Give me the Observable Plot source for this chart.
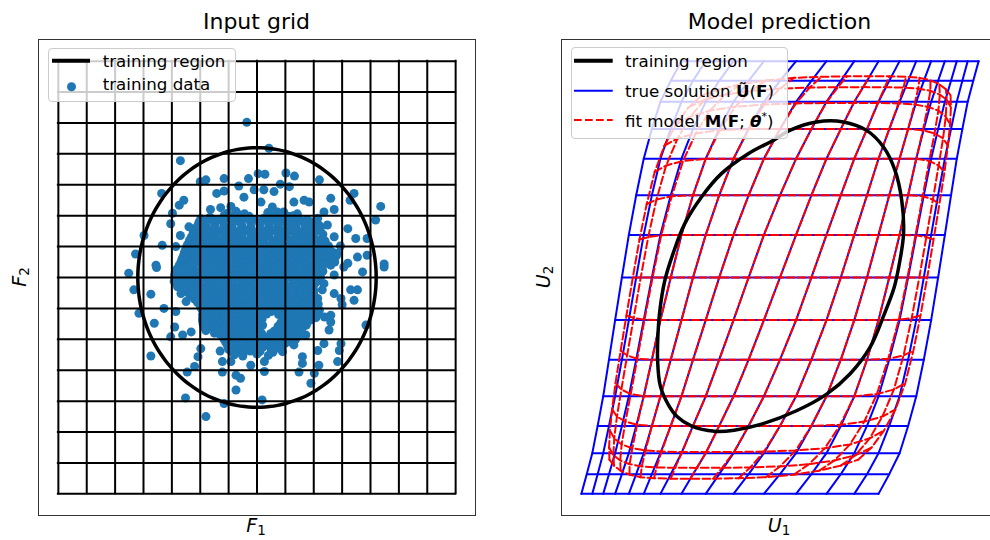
<!DOCTYPE html>
<html>
<head>
<meta charset="utf-8">
<script src="https://cdn.jsdelivr.net/npm/d3@7"></script>
<script src="https://cdn.jsdelivr.net/npm/@observablehq/plot@0.6"></script>
<style>
  html, body { margin: 0; padding: 0; background: #fff; overflow: hidden; }
  #fig { position: relative; width: 990px; height: 540px; overflow: hidden;
         font-family: "DejaVu Sans", sans-serif; color: #000; }
  .panel { position: absolute; top: 0; }
  .panel svg { display: block; max-width: none; }
  .title { position: absolute; font-size: 22px; line-height: 1; white-space: nowrap; transform: translateX(-50%); }
  .axlab { position: absolute; font-size: 19px; line-height: 1; white-space: nowrap; }
  .axlab i { font-style: italic; }
  .axlab sub { font-size: 13.5px; vertical-align: -3px; line-height: 0; }
  .xlab { transform: translateX(-50%); }
  .ylab { transform: translate(-50%, -50%) rotate(-90deg); }
  .legend { position: absolute; box-sizing: border-box; background: rgba(255,255,255,0.8);
            border: 1px solid #cccccc; border-radius: 4px; }
  .ltext { position: absolute; font-size: 16.7px; line-height: 1; white-space: nowrap; }
  .ltext sup { font-size: 11px; vertical-align: 7px; line-height: 0; }
  svg.handles { position: absolute; left: 0; top: 0; overflow: visible; pointer-events: none; }
</style>
</head>
<body>
<div id="fig">
  <div class="panel" id="left" style="left:0px;width:500px;"></div>
  <div class="panel" id="right" style="left:523px;width:475px;"></div>

  <div class="title" style="left:256.5px;top:11px;">Input grid</div>
  <div class="title" style="left:779.5px;top:11px;">Model prediction</div>

  <div class="axlab xlab" style="left:256px;top:516px;"><i>F</i><sub>1</sub></div>
  <div class="axlab xlab" style="left:779px;top:516px;"><i>U</i><sub>1</sub></div>
  <div class="axlab ylab" style="left:19px;top:277px;"><i>F</i><sub>2</sub></div>
  <div class="axlab ylab" style="left:543px;top:277px;"><i>U</i><sub>2</sub></div>

  <div class="legend" style="left:47.5px;top:48px;width:188px;height:54px;"></div>
  <div class="legend" style="left:570.7px;top:47.3px;width:217.6px;height:92px;"></div>
  <svg class="handles" width="990" height="540">
    <line x1="52" x2="90" y1="60.7" y2="60.7" stroke="#000" stroke-width="4"/>
    <circle cx="71.5" cy="86.7" r="4.5" fill="#1f77b4"/>
    <line x1="574" x2="612.7" y1="60.7" y2="60.7" stroke="#000" stroke-width="4"/>
    <line x1="574" x2="612.7" y1="90.7" y2="90.7" stroke="#0000ff" stroke-width="2"/>
    <line x1="574" x2="612.7" y1="120" y2="120" stroke="#ff0000" stroke-width="2" stroke-dasharray="7.7,3.3"/>
  </svg>
  <div class="ltext" style="left:102.7px;top:52.5px;">training region</div>
  <div class="ltext" style="left:102.7px;top:76px;">training data</div>
  <div class="ltext" style="left:625px;top:52.5px;">training region</div>
  <div class="ltext" style="left:625px;top:82.5px;">true solution <b>Ũ</b>(<b>F</b>)</div>
  <div class="ltext" style="left:625px;top:112.5px;">fit model <b>M</b>(<b>F</b>; <b><i>θ</i></b><sup>*</sup>)</div>
</div>

<script>
// ---- input grid: 15 levels per axis ----
const fLevels = [-3.5, -3, -2.5, -2, -1.5, -1, -0.5, 0, 0.5, 1, 1.5, 2, 2.5, 3, 3.5];

// radius of the circular training region in input space
const trainingRadius = 2.1;

// training samples (F1, F2): sparse outskirts
const trainingOuter = [
  [-0.18,2.51],[0.21,2.09],[-1.35,1.89],[0.02,1.68],[0.14,1.67],[0.51,1.69],[0.66,1.64],[-0.58,1.60],
  [-0.15,1.60],[-0.90,1.58],[-1.00,1.55],[-0.32,1.48],[0.41,1.51],[0.57,1.47],[1.10,1.58],[0.30,1.39],
  [0.12,1.42],[-0.05,1.42],[-0.71,1.36],[-0.58,1.40],[-1.68,1.36],[1.71,1.36],[1.64,1.25],[1.30,1.28],
  [1.36,1.10],[-0.23,1.30],[0.07,1.22],[0.65,1.22],[0.83,1.25],[0.92,1.22],[-1.29,1.25],[-1.37,1.17],
  [-0.82,1.10],[-0.64,1.13],[-0.46,1.15],[0.27,1.14],[0.36,1.06],[2.18,1.15],[2.09,0.93],[-1.49,1.04],
  [-1.52,0.87],[1.18,1.06],[1.07,0.96],[1.24,0.85],[1.60,0.79],[1.74,0.63],[1.94,0.63],[1.77,0.33],
  [1.94,0.36],[2.24,0.22],[-1.99,0.68],[-1.67,0.52],[-2.14,0.38],[-1.78,0.20],[-1.43,0.50],[-1.35,0.68],
  [-1.14,0.79],[1.47,0.51],[1.36,0.66],[1.60,0.23],[1.42,0.39],[0.89,0.66],[1.09,0.85],[-0.73,0.93],
  [-0.96,0.90],[-0.90,0.77],[-1.20,0.82],
  [-2.26,0.07],[-2.17,-0.20],[-1.77,0.16],[-1.87,-0.27],[-2.08,-0.58],[-1.81,-0.74],[-1.64,-0.50],
  [-1.43,-0.55],[-1.45,-0.80],[-1.52,-0.96],[-1.31,-0.93],[-1.16,-0.88],[-1.34,-0.26],[-1.25,-0.39],
  [-1.87,-1.27],[-0.99,-1.15],[-1.04,-1.28],[-0.65,-1.19],[-1.10,-1.44],[-1.23,-1.53],[-1.26,-1.95],
  [-0.90,-2.25],[-0.58,-2.04],[-0.61,-1.36],[-0.61,-1.53],[-0.46,-1.36],[-0.37,-1.58],[-0.29,-1.63],
  [-0.37,-1.82],[-0.11,-1.42],[0.13,-1.52],[0.09,-1.98],[0.13,-1.36],[0.45,-1.20],[0.65,-1.09],
  [0.80,-1.28],[0.80,-1.39],[0.74,-1.53],[1.01,-1.55],[0.95,-1.71],[1.09,-1.42],[1.07,-1.18],
  [1.42,-1.36],[1.45,-1.18],[1.48,-1.07],[1.18,-1.07],[1.27,-0.85],[1.19,-0.64],[1.30,-0.72],
  [1.15,-0.20],[1.36,-0.26],[1.18,-0.10],[1.48,-0.34],[1.65,-0.20],[1.77,-0.20],[1.71,-0.37],
  [1.50,-0.44],[1.92,-0.77],[1.86,0.09],[2.24,0.17],[1.53,0.17],[1.36,0.04],[1.12,0.08],[1.07,-0.34],
  [1.30,-0.61],[0.86,-0.93],[0.98,-0.56]
];

// training samples (F1, F2): dense core
const trainingCore = [
  [-0.52,1.04],[-0.37,1.07],[-0.22,1.03],[0.19,1.05],[0.33,1.02],[0.47,1.06],[0.71,1.03],
  [-0.58,1.00],[-0.44,0.99],[-0.29,1.01],[-0.14,0.99],[0.26,1.00],[0.40,1.01],[0.55,0.99],[0.64,1.00],
  [-0.99,0.95],[-0.83,0.97],[-0.66,0.94],[-0.50,0.96],[-0.35,0.93],[-0.19,0.97],[-0.03,0.94],[0.12,0.96],
  [0.41,0.95],[0.57,0.93],[0.73,0.97],[0.88,0.94],
  [-1.02,0.90],[-0.90,0.91],[-0.75,0.89],[-0.60,0.91],[-0.44,0.90],[-0.28,0.89],[-0.12,0.91],[0.04,0.90],
  [0.20,0.89],[0.34,0.91],[0.50,0.90],[0.65,0.89],[0.80,0.91],[0.95,0.90],
  [-1.04,0.85],[-0.90,0.83],[-0.74,0.86],[-0.58,0.84],[-0.43,0.87],[-0.27,0.85],[-0.11,0.83],[0.05,0.86],
  [0.21,0.84],[0.37,0.87],[0.52,0.85],[0.68,0.83],[0.84,0.86],[0.99,0.84],
  [-1.06,0.80],[-0.90,0.79],[-0.75,0.81],[-0.59,0.80],[-0.43,0.79],[-0.27,0.81],[-0.11,0.80],[0.05,0.79],
  [0.21,0.81],[0.37,0.80],[0.52,0.79],[0.68,0.81],[0.84,0.80],[1.00,0.79],[1.12,0.81],
  [-1.10,0.74],[-0.97,0.76],[-0.82,0.73],[-0.66,0.75],[-0.51,0.77],[-0.35,0.74],[-0.19,0.76],[-0.04,0.73],
  [0.13,0.75],[0.29,0.77],[0.44,0.74],[0.60,0.76],[0.76,0.73],[0.92,0.75],[1.08,0.77],
  [-1.13,0.70],[-1.04,0.69],[-0.90,0.71],[-0.74,0.70],[-0.58,0.69],[-0.43,0.71],[-0.27,0.70],[-0.11,0.69],
  [0.05,0.71],[0.21,0.70],[0.37,0.69],[0.52,0.71],[0.68,0.70],[0.84,0.69],[1.00,0.71],[1.16,0.70],
  [-1.16,0.65],[-1.02,0.63],[-0.88,0.66],[-0.73,0.64],[-0.58,0.67],[-0.43,0.64],[-0.27,0.66],[-0.11,0.63],
  [0.05,0.65],[0.20,0.67],[0.36,0.64],[0.52,0.66],[0.67,0.63],[0.83,0.65],[0.99,0.67],[1.15,0.64],
  [-1.19,0.60],[-1.09,0.59],[-0.95,0.61],[-0.80,0.60],[-0.65,0.59],[-0.50,0.61],[-0.35,0.60],[-0.19,0.59],
  [-0.03,0.61],[0.12,0.60],[0.28,0.59],[0.44,0.61],[0.60,0.60],[0.75,0.59],[0.91,0.61],[1.07,0.60],[1.20,0.59],
  [-1.22,0.54],[-1.07,0.56],[-0.93,0.53],[-0.79,0.55],[-0.64,0.57],[-0.49,0.54],[-0.34,0.56],[-0.19,0.53],
  [-0.03,0.55],[0.13,0.57],[0.28,0.54],[0.44,0.56],[0.59,0.53],[0.75,0.55],[0.91,0.57],[1.06,0.54],[1.20,0.56],
  [-1.24,0.50],[-1.14,0.49],[-1.00,0.51],[-0.86,0.50],[-0.71,0.49],[-0.56,0.51],[-0.41,0.50],[-0.26,0.49],
  [-0.11,0.51],[0.05,0.50],[0.20,0.49],[0.36,0.51],[0.51,0.50],[0.67,0.49],[0.83,0.51],[0.98,0.50],[1.13,0.49],[1.26,0.51],
  [-1.26,0.45],[-1.12,0.43],[-0.98,0.46],[-0.83,0.44],[-0.68,0.47],[-0.53,0.44],[-0.38,0.46],[-0.23,0.43],
  [-0.08,0.45],[0.08,0.47],[0.23,0.44],[0.39,0.46],[0.54,0.43],[0.70,0.45],[0.85,0.47],[1.01,0.44],[1.16,0.46],[1.30,0.43],
  [-1.28,0.40],[-1.19,0.39],[-1.05,0.41],[-0.90,0.40],[-0.75,0.39],[-0.60,0.41],[-0.45,0.40],[-0.30,0.39],
  [-0.15,0.41],[0.00,0.40],[0.15,0.39],[0.31,0.41],[0.46,0.40],[0.62,0.39],[0.77,0.41],[0.93,0.40],[1.08,0.39],[1.23,0.41],[1.35,0.40],
  [-1.30,0.34],[-1.16,0.36],[-1.02,0.33],[-0.87,0.35],[-0.72,0.37],[-0.57,0.34],[-0.42,0.36],[-0.27,0.33],
  [-0.12,0.35],[0.03,0.37],[0.18,0.34],[0.34,0.36],[0.49,0.33],[0.64,0.35],[0.80,0.37],[0.95,0.34],[1.11,0.36],[1.26,0.33],[1.40,0.35],
  [-1.32,0.30],[-1.23,0.29],[-1.09,0.31],[-0.94,0.30],[-0.79,0.29],[-0.64,0.31],[-0.49,0.30],[-0.34,0.29],
  [-0.19,0.31],[-0.04,0.30],[0.11,0.29],[0.26,0.31],[0.41,0.30],[0.57,0.29],[0.72,0.31],[0.87,0.30],[1.03,0.29],[1.18,0.31],[1.33,0.30],
  [-1.34,0.25],[-1.20,0.23],[-1.05,0.26],[-0.90,0.24],[-0.75,0.27],[-0.60,0.24],[-0.45,0.26],[-0.30,0.23],
  [-0.15,0.25],[0.00,0.27],[0.15,0.24],[0.31,0.26],[0.46,0.23],[0.61,0.25],[0.77,0.27],[0.92,0.24],[1.07,0.26],[1.22,0.23],[1.37,0.25],
  [-1.37,0.20],[-1.27,0.19],[-1.12,0.21],[-0.97,0.20],[-0.82,0.19],[-0.67,0.21],[-0.52,0.20],[-0.37,0.19],
  [-0.22,0.21],[-0.07,0.20],[0.08,0.19],[0.23,0.21],[0.38,0.20],[0.54,0.19],[0.69,0.21],[0.84,0.20],[0.99,0.19],[1.14,0.21],[1.30,0.20],
  [-1.41,0.14],[-1.27,0.16],[-1.12,0.13],[-0.97,0.15],[-0.82,0.17],[-0.67,0.14],[-0.52,0.16],[-0.37,0.13],
  [-0.22,0.15],[-0.07,0.17],[0.08,0.14],[0.23,0.16],[0.38,0.13],[0.54,0.15],[0.69,0.17],[0.84,0.14],[0.99,0.16],[1.15,0.13],
  [-1.43,0.10],[-1.34,0.09],[-1.19,0.11],[-1.04,0.10],[-0.89,0.09],[-0.74,0.11],[-0.59,0.10],[-0.44,0.09],
  [-0.29,0.11],[-0.14,0.10],[0.01,0.09],[0.16,0.11],[0.31,0.10],[0.46,0.09],[0.61,0.11],[0.76,0.10],[0.91,0.09],[1.06,0.11],[1.16,0.10],
  [-1.45,0.05],[-1.30,0.03],[-1.15,0.06],[-1.00,0.04],[-0.85,0.07],[-0.70,0.04],[-0.55,0.06],[-0.40,0.03],
  [-0.25,0.05],[-0.10,0.07],[0.05,0.04],[0.20,0.06],[0.35,0.03],[0.50,0.05],[0.65,0.07],[0.80,0.04],[0.95,0.06],[1.10,0.03],
  [-1.45,0.00],[-1.37,-0.01],[-1.22,0.01],[-1.07,0.00],[-0.92,-0.01],[-0.77,0.01],[-0.62,0.00],[-0.47,-0.01],
  [-0.32,0.01],[-0.17,0.00],[-0.02,-0.01],[0.13,0.01],[0.28,0.00],[0.43,-0.01],[0.58,0.01],[0.73,0.00],[0.88,-0.01],[1.03,0.01],[1.12,0.00],
  [-1.46,-0.06],[-1.32,-0.04],[-1.17,-0.07],[-1.02,-0.05],[-0.87,-0.03],[-0.72,-0.06],[-0.57,-0.04],[-0.42,-0.07],
  [-0.27,-0.05],[-0.12,-0.03],[0.03,-0.06],[0.18,-0.04],[0.33,-0.07],[0.48,-0.05],[0.63,-0.03],[0.78,-0.06],[0.93,-0.04],[1.05,-0.07],
  [-1.42,-0.10],[-1.32,-0.11],[-1.17,-0.09],[-1.02,-0.10],[-0.87,-0.11],[-0.72,-0.09],[-0.57,-0.10],[-0.42,-0.11],
  [-0.27,-0.09],[-0.12,-0.10],[0.03,-0.11],[0.18,-0.09],[0.33,-0.10],[0.48,-0.11],[0.63,-0.09],[0.78,-0.10],[0.92,-0.11],[1.02,-0.09],
  [-1.40,-0.15],[-1.25,-0.17],[-1.10,-0.14],[-0.95,-0.16],[-0.80,-0.13],[-0.65,-0.16],[-0.50,-0.14],[-0.35,-0.17],
  [-0.20,-0.15],[-0.05,-0.13],[0.10,-0.16],[0.25,-0.14],[0.40,-0.17],[0.55,-0.15],[0.70,-0.13],[0.85,-0.16],[0.99,-0.14],
  [-1.30,-0.20],[-1.17,-0.21],[-1.02,-0.19],[-0.87,-0.20],[-0.72,-0.21],[-0.57,-0.19],[-0.42,-0.20],[-0.27,-0.21],
  [-0.12,-0.19],[0.03,-0.20],[0.18,-0.21],[0.33,-0.19],[0.48,-0.20],[0.63,-0.21],[0.78,-0.19],[0.92,-0.20],[1.00,-0.21],
  [-1.20,-0.26],[-1.05,-0.24],[-0.90,-0.27],[-0.75,-0.25],[-0.60,-0.23],[-0.45,-0.26],[-0.30,-0.24],[-0.15,-0.27],
  [0.00,-0.25],[0.15,-0.23],[0.30,-0.26],[0.45,-0.24],[0.60,-0.27],[0.75,-0.25],[0.90,-0.23],[1.00,-0.27],
  [-1.15,-0.30],[-1.02,-0.31],[-0.87,-0.29],[-0.72,-0.30],[-0.57,-0.31],[-0.42,-0.29],[-0.27,-0.30],[-0.12,-0.31],
  [0.03,-0.29],[0.18,-0.30],[0.33,-0.31],[0.48,-0.29],[0.63,-0.30],[0.78,-0.31],[0.92,-0.29],
  [-1.10,-0.35],[-0.96,-0.37],[-0.81,-0.34],[-0.66,-0.36],[-0.51,-0.33],[-0.36,-0.36],[-0.21,-0.34],[-0.06,-0.37],
  [0.09,-0.35],[0.24,-0.33],[0.39,-0.36],[0.54,-0.34],[0.69,-0.37],[0.84,-0.35],[0.95,-0.33],
  [-1.05,-0.40],[-0.92,-0.41],[-0.77,-0.39],[-0.62,-0.40],[-0.47,-0.41],[-0.32,-0.39],[-0.17,-0.40],[-0.02,-0.41],
  [0.13,-0.39],[0.28,-0.40],[0.43,-0.41],[0.58,-0.39],[0.73,-0.40],[0.88,-0.41],[1.00,-0.39],
  [-1.00,-0.46],[-0.86,-0.44],[-0.71,-0.47],[-0.56,-0.45],[-0.41,-0.43],[-0.26,-0.46],[-0.11,-0.44],[0.04,-0.47],
  [0.19,-0.45],[0.34,-0.43],[0.49,-0.46],[0.64,-0.44],[0.79,-0.47],[0.94,-0.45],[1.08,-0.43],
  [-0.98,-0.50],[-0.87,-0.51],[-0.72,-0.49],[-0.57,-0.50],[-0.42,-0.51],[-0.27,-0.49],[-0.12,-0.50],[0.03,-0.51],
  [0.18,-0.49],[0.33,-0.50],[0.48,-0.51],[0.63,-0.49],[0.78,-0.50],[0.93,-0.51],[1.06,-0.49],
  [-0.95,-0.55],[-0.80,-0.57],[-0.65,-0.54],[-0.50,-0.56],[-0.35,-0.53],[-0.20,-0.56],[-0.05,-0.54],[0.10,-0.57],
  [0.25,-0.55],[0.40,-0.53],[0.55,-0.56],[0.70,-0.54],[0.85,-0.57],[1.00,-0.55],[1.10,-0.53],
  [-0.96,-0.60],[-0.87,-0.61],[-0.72,-0.59],[-0.57,-0.60],[-0.42,-0.61],[-0.27,-0.59],[-0.12,-0.60],[0.03,-0.61],
  [0.17,-0.59],[0.38,-0.60],[0.53,-0.61],[0.68,-0.59],[0.83,-0.60],[0.97,-0.61],[1.07,-0.59],
  [-0.96,-0.66],[-0.81,-0.64],[-0.66,-0.67],[-0.51,-0.65],[-0.36,-0.63],[-0.21,-0.66],[-0.06,-0.64],[0.09,-0.67],
  [0.45,-0.63],[0.60,-0.66],[0.75,-0.64],[0.90,-0.67],[1.04,-0.65],
  [-0.96,-0.70],[-0.87,-0.71],[-0.72,-0.69],[-0.57,-0.70],[-0.42,-0.71],[-0.27,-0.69],[-0.12,-0.70],[0.02,-0.71],
  [0.50,-0.69],[0.65,-0.70],[0.80,-0.71],[0.94,-0.69],
  [-0.95,-0.75],[-0.80,-0.77],[-0.65,-0.74],[-0.50,-0.76],[-0.35,-0.73],[-0.20,-0.76],[-0.05,-0.74],[0.10,-0.77],
  [0.42,-0.73],[0.57,-0.76],[0.72,-0.74],[0.87,-0.77],
  [-0.93,-0.80],[-0.87,-0.81],[-0.72,-0.79],[-0.57,-0.80],[-0.42,-0.81],[-0.27,-0.79],[-0.12,-0.80],[0.04,-0.81],
  [0.37,-0.79],[0.52,-0.80],[0.67,-0.81],[0.82,-0.79],
  [-0.90,-0.86],[-0.75,-0.84],[-0.60,-0.87],[-0.45,-0.85],[-0.30,-0.83],[-0.15,-0.86],[0.00,-0.84],[0.30,-0.87],
  [0.47,-0.85],[0.62,-0.83],[0.78,-0.86],
  [-0.75,-0.90],[-0.67,-0.91],[-0.52,-0.89],[-0.37,-0.90],[-0.22,-0.91],[-0.07,-0.89],[0.08,-0.90],[0.24,-0.91],
  [0.40,-0.89],[0.55,-0.90],[0.70,-0.91],
  [-0.60,-0.95],[-0.45,-0.97],[-0.30,-0.94],[-0.15,-0.96],[0.00,-0.93],[0.15,-0.97],[0.32,-0.95],[0.47,-0.93],[0.62,-0.96],[0.74,-0.94],
  [-0.58,-1.00],[-0.47,-1.01],[-0.32,-0.99],[-0.17,-1.00],[-0.02,-1.01],[0.13,-0.99],[0.28,-1.00],[0.43,-1.01],[0.56,-0.99],[0.68,-1.00],
  [-0.55,-1.05],[-0.40,-1.03],[-0.25,-1.06],[-0.10,-1.04],[0.05,-1.07],[0.20,-1.05],[0.35,-1.03],[0.50,-1.06],[0.60,-1.04],
  [-0.52,-1.10],[-0.42,-1.11],[-0.27,-1.09],[-0.12,-1.10],[0.03,-1.11],[0.18,-1.09],[0.32,-1.10],[0.45,-1.11],
  [-0.50,-1.16],[-0.35,-1.14],[-0.20,-1.17],[-0.05,-1.15],[0.10,-1.13],[0.25,-1.16],[0.36,-1.14],
  [-0.45,-1.20],[-0.30,-1.21],[-0.12,-1.19],[0.05,-1.20],[0.28,-1.21],
  [-0.40,-1.25],[-0.25,-1.27],[0.00,-1.24],[0.20,-1.26]
];

// ---- true solution: U2 depends on F2 only, U1 on the sheared input F1 + shear*F2 ----
const shear = 0.5;
const u2Levels = [-10, -9.09, -8.12, -6.86, -5.49, -3.80, -1.97, 0, 1.97, 3.80, 5.49, 6.86, 8.12, 9.09, 10];
const shearArgs = [-5.25,-5,-4.75,-4.5,-4.25,-4,-3.75,-3.5,-3.25,-3,-2.75,-2.5,-2.25,-2,-1.75,-1.5,-1.25,-1,-0.75,-0.5,-0.25,
                   0,0.25,0.5,0.75,1,1.25,1.5,1.75,2,2.25,2.5,2.75,3,3.25,3.5,3.75,4,4.25,4.5,4.75,5,5.25];
const u1Profile = [-10.0,-9.73,-9.45,-9.18,-8.90,-8.61,-8.30,-7.96,-7.61,-7.24,-6.86,-6.45,-6.02,-5.50,-4.96,-4.38,-3.74,-3.06,-2.34,-1.58,-0.81,
                   0,0.81,1.58,2.34,3.06,3.74,4.38,4.96,5.50,6.02,6.45,6.86,7.24,7.61,7.96,8.30,8.61,8.90,9.18,9.45,9.73,10.0];

// ---- fit model: agrees inside the training region, saturates outside ----
const fitNormPower = 3;
const fitReachIn  = [0, 2.4, 2.8, 3.2, 3.6, 4.0, 4.5, 5.0];
const fitReachOut = [0, 2.4, 2.72, 2.98, 3.16, 3.27, 3.36, 3.42];

// training region boundary as seen in output space (U1, U2)
const regionU1 = [1.84,3.19,4.36,5.21,5.79,6.13,6.22,6.00,5.75,5.25,4.53,3.52,2.35,0.83,-0.93,-2.30,-3.29,-4.47,-5.17,-5.64,
                  -6.03,-6.16,-6.15,-6.05,-5.80,-5.39,-4.80,-3.96,-2.95,-1.60,-0.26,0.49];
const regionU2 = [7.19,7.19,6.80,6.03,4.95,3.56,2.02,0.60,-0.45,-1.69,-3.23,-4.46,-5.39,-6.16,-6.78,-7.06,-7.11,-6.86,-6.44,-5.85,
                  -5.00,-3.85,-2.77,-1.53,-0.14,1.09,2.48,3.71,4.80,5.72,6.38,6.80];

// ---------------------------------------------------------------------------
const G = d3.scaleLinear().domain(shearArgs).range(u1Profile).clamp(true);
const H = d3.scaleLinear().domain(fLevels).range(u2Levels).clamp(true);
const reach = d3.scaleLinear().domain(fitReachIn).range(fitReachOut).clamp(true);

const trueMap = (f1, f2) => [G(f1 + shear * f2), H(f2)];
const fitMap = (f1, f2) => {
  const rho = Math.pow(Math.abs(f1) ** fitNormPower + Math.abs(f2) ** fitNormPower, 1 / fitNormPower);
  const k = rho > 0 ? reach(rho) / rho : 1;
  return trueMap(f1 * k, f2 * k);
};

// polylines of the mapped grid: one per column and one per row of input nodes
function gridLines(map) {
  const out = [];
  fLevels.forEach((a, i) => fLevels.forEach(b => { const [u1, u2] = map(a, b); out.push({line: "c" + i, u1, u2}); }));
  fLevels.forEach((b, j) => fLevels.forEach(a => { const [u1, u2] = map(a, b); out.push({line: "r" + j, u1, u2}); }));
  return out;
}

const fMin = d3.min(fLevels), fMax = d3.max(fLevels);
const circle = d3.range(0, 360, 4).map(t => ({
  f1: trainingRadius * Math.cos(t * Math.PI / 180),
  f2: trainingRadius * Math.sin(t * Math.PI / 180)
}));
const region = regionU1.map((u1, i) => ({u1, u2: regionU2[i]}));
const trainingData = trainingOuter.concat(trainingCore);

const left = Plot.plot({
  width: 500, height: 540,
  marginLeft: 38, marginRight: 25, marginTop: 39, marginBottom: 25,
  x: {domain: [-3.85, 3.85], axis: null},
  y: {domain: [-3.85, 3.85], axis: null},
  style: {background: "transparent", overflow: "visible"},
  marks: [
    Plot.dot(trainingData, {x: d => d[0], y: d => d[1], r: 4.5, fill: "#1f77b4", stroke: "none"}),
    Plot.ruleX(fLevels, {x: d => d, y1: () => fMin, y2: () => fMax, stroke: "#000", strokeWidth: 2, strokeLinecap: "square"}),
    Plot.ruleY(fLevels, {y: d => d, x1: () => fMin, x2: () => fMax, stroke: "#000", strokeWidth: 2, strokeLinecap: "square"}),
    Plot.line(circle, {x: "f1", y: "f2", curve: "catmull-rom-closed", stroke: "#000", strokeWidth: 3.5}),
    Plot.frame({stroke: "#333", strokeWidth: 1})
  ]
});
document.getElementById("left").append(left);

const right = Plot.plot({
  width: 475, height: 540,
  marginLeft: 38, marginRight: 0, marginTop: 39, marginBottom: 25,
  x: {domain: [-11, 11], axis: null},
  y: {domain: [-11, 11], axis: null},
  style: {background: "transparent", overflow: "visible"},
  marks: [
    Plot.line(gridLines(trueMap), {x: "u1", y: "u2", z: "line", stroke: "#0000ff", strokeWidth: 2, strokeLinejoin: "round"}),
    Plot.line(gridLines(fitMap), {x: "u1", y: "u2", z: "line", stroke: "#ff0000", strokeWidth: 2,
      strokeDasharray: "7.7,3.3", strokeLinejoin: "round"}),
    Plot.line(region, {x: "u1", y: "u2", curve: "catmull-rom-closed", stroke: "#000", strokeWidth: 3.5}),
    Plot.frame({stroke: "#333", strokeWidth: 1})
  ]
});
document.getElementById("right").append(right);
</script>
</body>
</html>
